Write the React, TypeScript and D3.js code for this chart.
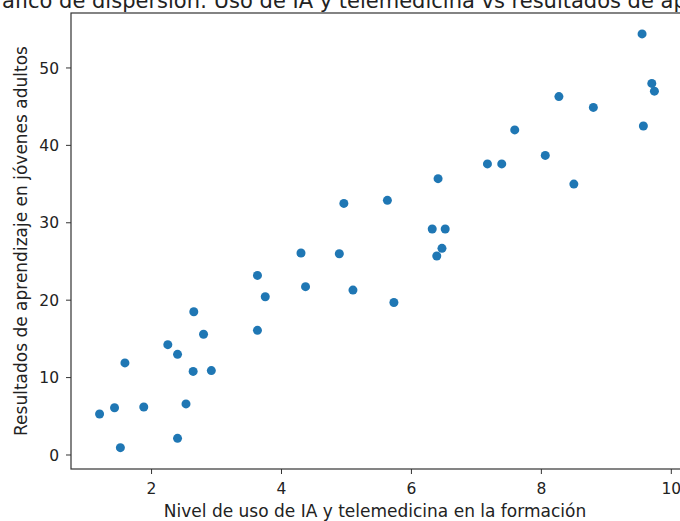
import React from "react";
import * as d3 from "d3";

const xValues = [1.20, 1.43, 1.52, 1.59, 1.88, 2.25, 2.40, 2.40, 2.53, 2.64, 2.65, 2.80, 2.92, 3.63, 3.75, 3.63, 4.30, 4.37, 4.89, 4.96, 5.10, 5.63, 5.73, 6.32, 6.52, 6.39, 6.47, 6.41, 7.17, 7.39, 7.59, 8.06, 8.27, 8.50, 8.80, 9.57, 9.55, 9.70, 9.74];
const yValues = [5.3, 6.1, 0.95, 11.9, 6.2, 14.25, 13.0, 2.15, 6.6, 10.8, 18.5, 15.6, 10.9, 23.2, 20.45, 16.1, 26.1, 21.75, 26.0, 32.5, 21.3, 32.9, 19.7, 29.2, 29.2, 25.7, 26.7, 35.7, 37.6, 37.6, 42.0, 38.7, 46.3, 35.0, 44.9, 42.5, 54.4, 48.0, 47.0];
const xTicks = [2, 4, 6, 8, 10];
const yTicks = [0, 10, 20, 30, 40, 50];
const title = "Gráfico de dispersión: Uso de IA y telemedicina vs resultados de aprendizaje";
const xLabel = "Nivel de uso de IA y telemedicina en la formación";
const yLabel = "Resultados de aprendizaje en jóvenes adultos";

export default function App() {
  const W = 680, H = 521;
  const left = 71, right = 683, top = 13, bottom = 469;
  const x = d3.scaleLinear().domain([0.76, 10.18]).range([left, right]);
  const y = d3.scaleLinear().domain([-1.81, 57.1]).range([bottom, top]);
  const font = "'DejaVu Sans', sans-serif";
  const axisColor = "#333";
  const textColor = "#222";
  return (
    <svg width={W} height={H} style={{ position: "absolute", left: 0, top: 0, background: "#fff" }} fontFamily={font}>
      <rect x={0} y={0} width={W} height={H} fill="#fff" />
      <text x={380} y={7.5} textAnchor="middle" fontSize={21} fill={textColor}>{title}</text>
      {xValues.map((xv, i) => (
        <circle key={i} cx={x(xv)} cy={y(yValues[i])} r={4.5} fill="#1f77b4" />
      ))}
      <rect x={left} y={top} width={right - left} height={bottom - top} fill="none" stroke={axisColor} strokeWidth={1.2} />
      {xTicks.map((t) => (
        <g key={t} transform={`translate(${x(t)},${bottom})`}>
          <line y1={0} y2={5} stroke={axisColor} />
          <text y={25} textAnchor="middle" fontSize={15.5} fill={textColor}>{t}</text>
        </g>
      ))}
      {yTicks.map((t) => (
        <g key={t} transform={`translate(${left},${y(t)})`}>
          <line x1={0} x2={-5} stroke={axisColor} />
          <text x={-12} dy="0.36em" textAnchor="end" fontSize={15.5} fill={textColor}>{t}</text>
        </g>
      ))}
      <text x={375} y={517} textAnchor="middle" fontSize={17} fill={textColor}>{xLabel}</text>
      <text transform={`translate(27,${(top + bottom) / 2}) rotate(-90)`} textAnchor="middle" fontSize={17} fill={textColor}>{yLabel}</text>
    </svg>
  );
}
